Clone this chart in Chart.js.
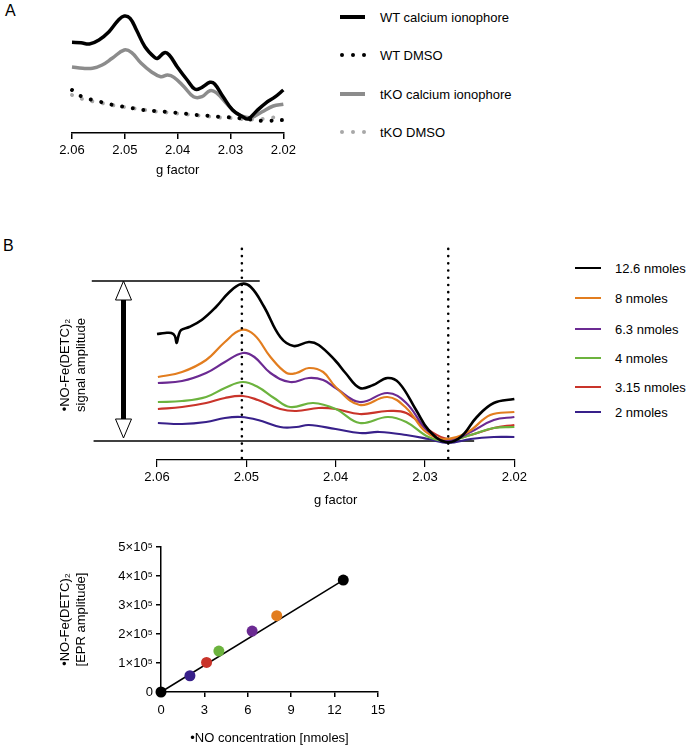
<!DOCTYPE html>
<html><head><meta charset="utf-8">
<script src="https://cdn.jsdelivr.net/npm/chart.js@4.4.1/dist/chart.umd.min.js"></script>
<style>
html,body{margin:0;padding:0;background:#fff}
body{width:691px;height:747px;position:relative;overflow:hidden;font-family:'Liberation Sans',Arial,Helvetica,sans-serif;color:#000}
canvas{position:absolute;display:block}
.panel{position:absolute;font-size:16px;line-height:16px}
.row{position:absolute;height:16px;display:flex;align-items:center;font-size:13px;white-space:nowrap}
.sw{position:relative;flex:none}
.dot{position:absolute;border-radius:50%}
</style></head><body>
<div class="panel" style="left:5px;top:3px">A</div>
<div class="panel" style="left:3px;top:238px">B</div>
<canvas id="cA" width="300" height="185" style="left:0;top:0"></canvas>
<canvas id="cB" width="530" height="285" style="left:0;top:230px"></canvas>
<canvas id="cC" width="400" height="217" style="left:0;top:530px"></canvas>
<div id="legA"></div><div id="legB"></div>
<script>
// ---------- data ----------
const gTickValues = [2.06, 2.05, 2.04, 2.03, 2.02];

// Panel A (arbitrary EPR units)
const seriesA = ['WT calcium ionophore', 'WT DMSO', 'tKO calcium ionophore', 'tKO DMSO'];
const wtIonophore = [[2.0600,90.7],[2.0583,90.3],[2.0567,89],[2.0549,93],[2.0530,101.3],[2.0512,113],[2.0501,117],[2.0490,114.7],[2.0478,103],[2.0462,86.3],[2.0444,75.7],[2.0438,74.7],[2.0425,80.3],[2.0416,78],[2.0401,66.3],[2.0382,53],[2.0367,43.7],[2.0354,45.7],[2.0339,50.7],[2.0330,49],[2.0314,36.3],[2.0296,23],[2.0277,16.3],[2.0267,14],[2.0252,21.3],[2.0234,29.7],[2.0215,36.3],[2.0200,43]];
const wtDmso = [[2.0600,43],[2.0581,36.3],[2.0561,33],[2.0543,30.7],[2.0522,28],[2.0502,26.3],[2.0484,24.7],[2.0464,23],[2.0444,22],[2.0424,21.3],[2.0404,20.3],[2.0384,19.3],[2.0364,18],[2.0344,17.3],[2.0323,16.3],[2.0304,15.7],[2.0283,14.7],[2.0265,13.7],[2.0244,12.3],[2.0225,12.3],[2.0200,13]];
const tkoIonophore = [[2.0600,66],[2.0580,64.7],[2.0561,64.7],[2.0543,68],[2.0524,74.7],[2.0501,83],[2.0487,80.3],[2.0469,69.7],[2.0450,61.3],[2.0432,56.3],[2.0419,58],[2.0407,55.7],[2.0388,46.3],[2.0370,36.3],[2.0354,36.3],[2.0339,42.3],[2.0327,40.3],[2.0308,29.7],[2.0289,19.7],[2.0271,15.7],[2.0259,15.7],[2.0240,21.3],[2.0219,27],[2.0200,28.7]];
const tkoDmso = [[2.0600,38],[2.0580,34],[2.0560,31.5],[2.0540,29.5],[2.0520,27.5],[2.0500,26],[2.0480,24.5],[2.0460,23],[2.0440,21.5],[2.0420,20.5],[2.0400,19.5],[2.0380,18.5],[2.0360,17.5],[2.0340,16.5],[2.0320,15.5],[2.0300,15],[2.0280,14],[2.0260,13.5],[2.0240,14],[2.0220,15.5],[2.0200,17]];

// Panel B (signal above baseline)
const seriesB = ['12.6 nmoles', '8 nmoles', '6.3 nmoles', '4 nmoles', '3.15 nmoles', '2 nmoles'];
const colorsB = ['#000000', '#E27D1F', '#6B2A92', '#6CB33E', '#C9342A', '#38208A'];
const nmol126 = [[2.0600,107],[2.0591,108],[2.0584,108],[2.0580,105],[2.0578,98],[2.0576,105],[2.0573,111],[2.0564,114],[2.0550,121],[2.0534,134],[2.0520,148],[2.0506,157],[2.0495,154],[2.0480,134],[2.0462,104],[2.0447,95],[2.0430,99],[2.0419,96],[2.0400,80],[2.0389,68],[2.0373,53],[2.0358,56],[2.0342,63],[2.0329,58],[2.0310,31],[2.0296,11],[2.0277,-1],[2.0260,4],[2.0242,24],[2.0223,38],[2.0200,42]];
const nmol8 = [[2.0599,64],[2.0572,69],[2.0545,81],[2.0524,99],[2.0506,111],[2.0491,106],[2.0473,84],[2.0455,68],[2.0444,68],[2.0430,73],[2.0414,69],[2.0400,54],[2.0373,36],[2.0342,44],[2.0321,33],[2.0299,9],[2.0278,2],[2.0252,9],[2.0227,26],[2.0200,29]];
const nmol63 = [[2.0599,58],[2.0572,60],[2.0545,68],[2.0524,79],[2.0504,88],[2.0491,84],[2.0473,68],[2.0451,59],[2.0430,63],[2.0414,61],[2.0400,53],[2.0373,39],[2.0342,48],[2.0321,38],[2.0296,9],[2.0274,0],[2.0249,9],[2.0223,21],[2.0200,24]];
const nmol4 = [[2.0599,39],[2.0572,40],[2.0545,44],[2.0524,53],[2.0504,59],[2.0487,54],[2.0469,43],[2.0451,34],[2.0425,38],[2.0400,32],[2.0373,18],[2.0342,24],[2.0321,19],[2.0296,4],[2.0274,0],[2.0249,6],[2.0223,13],[2.0200,14]];
const nmol315 = [[2.0599,32],[2.0572,34],[2.0545,38],[2.0524,43],[2.0504,45],[2.0487,41],[2.0462,32],[2.0444,30],[2.0419,33],[2.0400,32],[2.0373,27],[2.0342,30],[2.0321,28],[2.0296,11],[2.0274,2],[2.0249,6],[2.0223,13],[2.0200,16]];
const nmol2 = [[2.0599,18],[2.0572,17],[2.0545,19],[2.0524,23],[2.0506,24],[2.0487,21],[2.0462,14],[2.0444,14],[2.0430,16],[2.0400,12],[2.0373,8],[2.0351,9],[2.0321,6],[2.0296,2],[2.0274,-2],[2.0249,2],[2.0223,4],[2.0200,4]];
const ampTopLine = [[2.0673,160],[2.0485,160]];
const ampBaseLine = [[2.0671,0],[2.0245,0]];
const markerG = [2.0505, 2.0274];
const markerSpan = [-17, 198];
const arrowG = 2.0638, arrowTop = 160, arrowBottom = 3;

// Panel C
const noConc = [0, 2, 3.15, 4, 6.3, 8, 12.6];
const eprAmplitude = [0, 56000, 102000, 141000, 210000, 263000, 386000];
const pointColors = ['#000000', '#38208A', '#C9342A', '#6CB33E', '#6B2A92', '#E27D1F', '#000000'];
const fitLine = [[0, 0], [12.6, 386000]];
const concTicks = [0, 3, 6, 9, 12, 15];
const ampTicks = [0, 100000, 200000, 300000, 400000, 500000];
const ampTickLabels = ['0', '1×10⁵', '2×10⁵', '3×10⁵', '4×10⁵', '5×10⁵'];

// ---------- helpers ----------
const FONT = "'Liberation Sans', Arial, Helvetica, sans-serif";
Chart.defaults.font.family = FONT;
Chart.defaults.color = '#000';
const pts = arr => arr.map(([x, y]) => ({x, y}));
const f13 = {size: 13, family: FONT, lineHeight: 1.2};

function gAxis(height, tickLen, tickPad, titlePadBottom, lw) {
  return {
    type: 'linear', reverse: true, min: 2.02, max: 2.06,
    afterBuildTicks: s => { s.ticks = gTickValues.map(v => ({value: v})); },
    afterFit: s => { s.height = height; },
    grid: {display: true, drawOnChartArea: false, drawTicks: true, tickLength: tickLen, color: '#000', lineWidth: lw},
    border: {display: true, color: '#000', width: lw},
    ticks: {color: '#000', font: f13, padding: tickPad, autoSkip: false, maxRotation: 0, callback: v => Number(v).toFixed(2)},
    title: {display: true, text: 'g factor', color: '#000', font: f13, padding: {top: 0, bottom: titlePadBottom}}
  };
}
const baseOpts = {responsive: false, animation: false, events: [],
  plugins: {legend: {display: false}, tooltip: {enabled: false}}};

// ---------- Panel A ----------
const colorsA = ['#000000', '#000000', '#8C8C8C', '#A8A8A8'];
const dataA = [wtIonophore, wtDmso, tkoIonophore, tkoDmso];
new Chart(document.getElementById('cA'), {
  type: 'line',
  data: {datasets: dataA.map((d, i) => {
    const dotted = (i % 2 === 1);
    return {label: seriesA[i], data: pts(d), borderColor: colorsA[i], borderWidth: dotted ? 4 : 3.5,
      borderDash: dotted ? [0.01, 10.7] : [], borderCapStyle: dotted ? 'round' : 'butt', borderJoinStyle: 'round',
      pointRadius: 0, tension: 0.4, fill: false, clip: false};
  })},
  options: Object.assign({}, baseOpts, {
    layout: {padding: {left: 72, right: 12, top: 10, bottom: 0}},
    scales: {x: gAxis(52, 6, 4, 7.2, 1.5), y: {display: false, min: 0, max: 123}}
  })
});

// ---------- Panel B ----------
const arrowPlugin = {
  id: 'ampArrow',
  afterDatasetsDraw(chart) {
    const {ctx, scales: {x, y}} = chart;
    const ax = Math.round(x.getPixelForValue(arrowG)) + 0.5;
    const yt = y.getPixelForValue(arrowTop), yb = y.getPixelForValue(arrowBottom);
    const hl = 19, hw = 8;
    ctx.save();
    ctx.fillStyle = '#000';
    ctx.fillRect(ax - 2.5, yt + hl - 2, 5, (yb - hl + 2) - (yt + hl - 2));
    ctx.lineWidth = 1; ctx.strokeStyle = '#000'; ctx.fillStyle = '#fff';
    ctx.beginPath(); ctx.moveTo(ax, yt); ctx.lineTo(ax - hw, yt + hl); ctx.lineTo(ax + hw, yt + hl); ctx.closePath(); ctx.fill(); ctx.stroke();
    ctx.beginPath(); ctx.moveTo(ax, yb); ctx.lineTo(ax - hw, yb - hl); ctx.lineTo(ax + hw, yb - hl); ctx.closePath(); ctx.fill(); ctx.stroke();
    ctx.restore();
  }
};
const dataB = [nmol126, nmol8, nmol63, nmol4, nmol315, nmol2];
const dsB = [];
markerG.forEach(g => dsB.push({data: pts(markerSpan.map(v => [g, v])), borderColor: '#000', borderWidth: 2.6,
  borderDash: [0.01, 7.2], borderCapStyle: 'round', pointRadius: 0, clip: false}));
dataB.forEach((d, i) => dsB.push({label: seriesB[i], data: pts(d), borderColor: colorsB[i], borderWidth: i === 0 ? 2.6 : 2.2,
  borderJoinStyle: 'round', pointRadius: 0, tension: 0.4, fill: false, clip: false}));
[ampTopLine, ampBaseLine].forEach(d => dsB.push({data: pts(d), borderColor: '#000', borderWidth: 1.4, pointRadius: 0, clip: false}));
new Chart(document.getElementById('cB'), {
  type: 'line',
  data: {datasets: dsB},
  options: Object.assign({}, baseOpts, {
    layout: {padding: {left: 0, right: 7, top: 40, bottom: 0}},
    scales: {
      x: gAxis(55, 7, 3, 7.2, 1.2),
      y: {display: true, min: -19, max: 171,
        afterFit: s => { s.width = 157; },
        grid: {display: false}, border: {display: false}, ticks: {display: false},
        title: {display: true, text: ['•NO-Fe(DETC)₂', 'signal amplitude'], color: '#000',
          font: {size: 13, family: FONT, lineHeight: 1.25}, padding: {top: 57, bottom: 0}}}
    }
  }),
  plugins: [arrowPlugin]
});

// ---------- Panel C ----------
new Chart(document.getElementById('cC'), {
  type: 'scatter',
  data: {datasets: [
    {data: noConc.map((x, i) => ({x, y: eprAmplitude[i]})), backgroundColor: pointColors, borderWidth: 0,
      pointRadius: 5.5, clip: false},
    {type: 'line', data: pts(fitLine), borderColor: '#000', borderWidth: 1.5, pointRadius: 0, clip: false}
  ]},
  options: Object.assign({}, baseOpts, {
    layout: {padding: {left: 0, right: 22, top: 17, bottom: 0}},
    scales: {
      x: {type: 'linear', min: 0, max: 15,
        afterBuildTicks: s => { s.ticks = concTicks.map(v => ({value: v})); },
        afterFit: s => { s.height = 55; },
        grid: {display: true, drawOnChartArea: false, tickLength: 5, color: '#000', lineWidth: 1.5},
        border: {display: true, color: '#000', width: 1.5},
        ticks: {color: '#000', font: f13, padding: 6, autoSkip: false, maxRotation: 0},
        title: {display: true, text: '•NO concentration [nmoles]', color: '#000', font: f13, padding: {top: 0, bottom: 1.2}}},
      y: {type: 'linear', min: 0, max: 500000,
        afterBuildTicks: s => { s.ticks = ampTicks.map(v => ({value: v})); },
        afterFit: s => { s.width = 161; },
        grid: {display: true, drawOnChartArea: false, tickLength: 5, color: '#000', lineWidth: 1.5},
        border: {display: true, color: '#000', width: 1.5},
        ticks: {color: '#000', font: f13, padding: 3, autoSkip: false, callback: (v, i) => ampTickLabels[i]},
        title: {display: true, text: ['•NO-Fe(DETC)₂', '[EPR amplitude]'], color: '#000',
          font: {size: 13, family: FONT, lineHeight: 1.25}, padding: {top: 57, bottom: 0}}}
    }
  })
});

// ---------- HTML legends ----------
function legendRow(parent, left, cy, text, color, dotted, sw, th) {
  const row = document.createElement('div');
  row.className = 'row';
  row.style.left = left + 'px';
  row.style.top = (cy - 8) + 'px';
  const s = document.createElement('div');
  s.className = 'sw';
  s.style.width = sw.w + 'px'; s.style.height = '16px'; s.style.marginRight = sw.gap + 'px';
  if (dotted) {
    [0, 11, 22].forEach(dx => {
      const d = document.createElement('div');
      d.className = 'dot';
      d.style.left = dx + 'px'; d.style.top = (8 - 2) + 'px';
      d.style.width = '4px'; d.style.height = '4px'; d.style.background = color;
      s.appendChild(d);
    });
  } else {
    const l = document.createElement('div');
    l.style.position = 'absolute'; l.style.left = '0'; l.style.width = sw.w + 'px';
    l.style.top = (8 - th / 2) + 'px'; l.style.height = th + 'px'; l.style.background = color;
    s.appendChild(l);
  }
  row.appendChild(s);
  const t = document.createElement('span');
  t.textContent = text;
  row.appendChild(t);
  parent.appendChild(row);
}
const legAY = [17, 55, 94, 132];
seriesA.forEach((name, i) => legendRow(document.getElementById('legA'), 340, legAY[i], name, colorsA[i], i % 2 === 1, {w: 25, gap: 15}, 4));
const legBY = [268, 298, 329, 358, 387, 412];
seriesB.forEach((name, i) => legendRow(document.getElementById('legB'), 575, legBY[i], name, colorsB[i], false, {w: 26, gap: 14}, 2.5));
</script>
</body></html>
